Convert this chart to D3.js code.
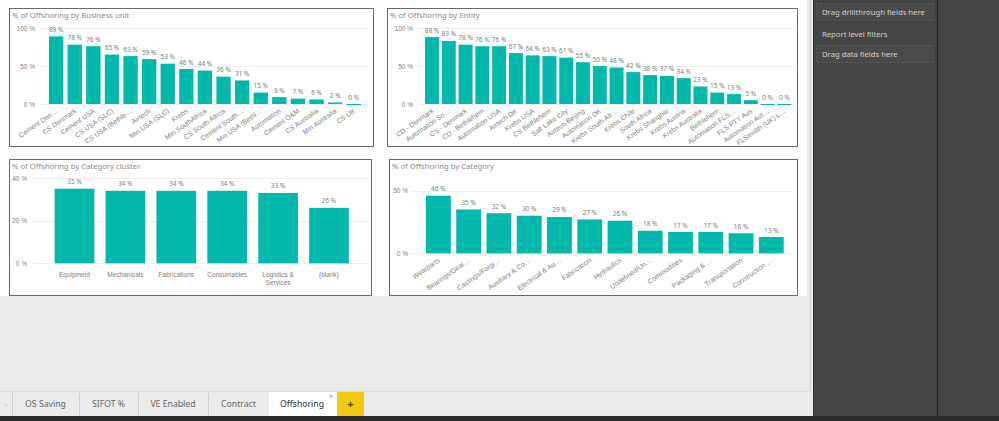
<!DOCTYPE html>
<html>
<head>
<meta charset="utf-8">
<script src="https://cdn.jsdelivr.net/npm/d3@7/dist/d3.min.js"></script>
<style>
  html, body { margin: 0; padding: 0; background: #eaeaea; }
  svg { display: block; font-family: "Segoe UI", "Noto Sans", "Open Sans", sans-serif; }
</style>
</head>
<body>
<svg id="chart" width="999" height="421"></svg>
<script>
// ---------------- DATA ----------------
const buCategories = ["Cement Den…", "CS Denmark", "Cement USA", "CS USA (SLC)", "CS USA (Bethle…", "Airtech", "Min USA (SLC)", "Krebs", "Min SouthAfrica", "CS South Africa", "Cement South…", "Min USA (Bethl…", "Automation", "Cement O&M", "CS Australia", "Min Australia", "CS UK"];
const buValues = [89, 78, 76, 65, 63, 59, 53, 46, 44, 36, 31, 15, 9, 7, 6, 2, 0];
const buTicks = [0, 50, 100];

const entityCategories = ["CD - Denmark", "Automation So…", "CS - Denmark", "CD - Bethlehem", "Automation USA", "Airtech DK", "Krebs USA", "CS Bethlehem", "Salt Lake City", "Airtech Beijing", "Automation DK", "Krebs South Afr…", "Krebs Chile", "South Africa", "Krebs Shanghai", "Krebs Austria", "Krebs Australia", "Bethlehem", "Automation FLS…", "FLS PTY Aus", "Automation Aut…", "FLSmidth (UK) L…"];
const entityValues = [88, 83, 78, 76, 76, 67, 64, 63, 61, 55, 50, 48, 42, 38, 37, 34, 23, 15, 13, 5, 0, 0];
const entityTicks = [0, 50, 100];

const clusterCategories = ["Equipment", "Mechanicals", "Fabrications", "Consumables", "Logistics & Services", "(blank)"];
const clusterValues = [35, 34, 34, 34, 33, 26];
const clusterTicks = [0, 20, 40];

const categoryCategories = ["Wearparts", "Bearings/Gear…", "Castings/Forgi…", "Auxiliary & Co…", "Electrical & Au…", "Fabrication", "Hydraulics", "Undefined/Un…", "Commodities", "Packaging & …", "Transportation", "Construction …"];
const categoryValues = [46, 35, 32, 30, 29, 27, 26, 18, 17, 17, 16, 13];
const categoryTicks = [0, 50];

const tabLabels = ["OS Saving", "SIFOT %", "VE Enabled", "Contract", "Offshoring"];
const activeTab = "Offshoring";
const paneLabels = ["Drag drillthrough fields here", "Report level filters", "Drag data fields here"];

// ---------------- STYLE ----------------
const BAR = "#01B8AA";
const TXT = "#808080";
const svg = d3.select("#chart");

// ---------------- PAGE CHROME ----------------
svg.append("rect").attr("x", 0).attr("y", 0).attr("width", 999).attr("height", 421).attr("fill", "#eaeaea");
svg.append("rect").attr("x", 0).attr("y", 0).attr("width", 807).attr("height", 296).attr("fill", "#ffffff");
svg.append("line").attr("x1", 810.5).attr("x2", 810.5).attr("y1", 0).attr("y2", 392).attr("stroke", "#d4d4d4");

// right panes
svg.append("rect").attr("x", 813).attr("y", 0).attr("width", 186).attr("height", 421).attr("fill", "#454545");
svg.append("line").attr("x1", 813.5).attr("x2", 813.5).attr("y1", 0).attr("y2", 416).attr("stroke", "#333");
svg.append("line").attr("x1", 937.5).attr("x2", 937.5).attr("y1", 0).attr("y2", 416).attr("stroke", "#1f1f1f");

const paneBoxes = [{y: 3, h: 17, box: true}, {y: 25, h: 17, box: false}, {y: 45, h: 17, box: true}];
paneLabels.forEach((t, i) => {
  const b = paneBoxes[i];
  if (b.box) {
    svg.append("rect").attr("x", 816.5).attr("y", b.y + 0.5).attr("width", 117).attr("height", b.h)
      .attr("fill", "#4a4a4a").attr("stroke", "#5e5e5e").attr("stroke-dasharray", "2,2");
  }
  svg.append("text").attr("x", 822).attr("y", b.y + b.h / 2 + 3).attr("fill", "#d0d0d0")
    .attr("font-size", 7.7).text(t);
});

// tab bar
svg.append("rect").attr("x", 0).attr("y", 392).attr("width", 811).attr("height", 24).attr("fill", "#ececec");
svg.append("line").attr("x1", 0).attr("x2", 811).attr("y1", 391.5).attr("y2", 391.5).attr("stroke", "#dadada");
svg.append("text").attr("x", 5).attr("y", 407).attr("fill", "#bbb").attr("font-size", 7).text("›");
const tabEdges = [12, 79, 138, 208, 269, 337];
svg.append("line").attr("x1", 12.5).attr("x2", 12.5).attr("y1", 393).attr("y2", 416).attr("stroke", "#d0d0d0");
tabLabels.forEach((t, i) => {
  const x0 = tabEdges[i], x1 = tabEdges[i + 1];
  const active = t === activeTab;
  if (active) {
    svg.append("rect").attr("x", x0).attr("y", 392).attr("width", x1 - x0).attr("height", 24).attr("fill", "#ffffff");
    svg.append("text").attr("x", x1 - 6).attr("y", 399).attr("fill", "#888").attr("font-size", 7)
      .attr("text-anchor", "middle").text("×");
  } else {
    svg.append("line").attr("x1", x1 + 0.5).attr("x2", x1 + 0.5).attr("y1", 393).attr("y2", 416).attr("stroke", "#d0d0d0");
  }
  svg.append("text").attr("x", (x0 + x1) / 2 + (active ? -1 : 0)).attr("y", 407)
    .attr("fill", active ? "#333" : "#666").attr("font-size", 8.7).attr("text-anchor", "middle").text(t);
});
svg.append("rect").attr("x", 337).attr("y", 392).attr("width", 27).attr("height", 24).attr("fill", "#F2C811");
svg.append("text").attr("x", 350.5).attr("y", 408).attr("fill", "#444").attr("font-size", 11)
  .attr("font-weight", "bold").attr("text-anchor", "middle").text("+");
svg.append("rect").attr("x", 0).attr("y", 416).attr("width", 999).attr("height", 5).attr("fill", "#2b2b2b");

// ---------------- CHARTS ----------------
function drawPanel(cfg) {
  const g = svg.append("g");
  g.append("rect").attr("x", cfg.box[0] + 0.5).attr("y", cfg.box[1] + 0.5)
    .attr("width", cfg.box[2]).attr("height", cfg.box[3])
    .attr("fill", "#fff").attr("stroke", "#6a6a6a");
  g.append("text").attr("x", cfg.box[0] + 3).attr("y", cfg.box[1] + 10)
    .attr("fill", "#8a8a8a").attr("font-size", 7.7).text(cfg.title);

  const y = d3.scaleLinear().domain(cfg.yDomain).range(cfg.yRange);
  const x = d3.scaleBand().domain(cfg.cats).range(cfg.xRange)
    .paddingInner(cfg.padIn).paddingOuter(cfg.padOut);

  // gridlines
  g.append("g").selectAll("line").data(cfg.ticks).join("line")
    .attr("x1", cfg.grid[0]).attr("x2", cfg.grid[1])
    .attr("y1", d => Math.round(y(d)) + 0.5).attr("y2", d => Math.round(y(d)) + 0.5)
    .attr("stroke", "#eeeeee");

  // y axis
  const ya = g.append("g").attr("transform", `translate(${cfg.tickX},0)`)
    .call(d3.axisLeft(y).tickValues(cfg.ticks).tickFormat(d => d + " %").tickSize(0).tickPadding(0));
  ya.select(".domain").remove();
  ya.selectAll("text").attr("fill", TXT).attr("font-size", 6.5).attr("font-family", null);

  // bars
  const data = cfg.cats.map((c, i) => ({c, v: cfg.vals[i]}));
  g.append("g").selectAll("rect").data(data).join("rect")
    .attr("x", d => x(d.c)).attr("width", x.bandwidth())
    .attr("y", d => y(d.v)).attr("height", d => Math.max(1, y(0) - y(d.v)))
    .attr("fill", BAR);
  // data labels
  g.append("g").selectAll("text").data(data).join("text")
    .attr("x", d => x(d.c) + x.bandwidth() / 2).attr("y", d => y(d.v) - 4.5)
    .attr("text-anchor", "middle").attr("fill", TXT).attr("font-size", 6.5)
    .text(d => d.v + " %");

  // x axis
  const xa = g.append("g").attr("transform", `translate(0,${cfg.yRange[0]})`)
    .call(d3.axisBottom(x).tickSize(0).tickPadding(0));
  xa.select(".domain").remove();
  const xt = xa.selectAll("text").attr("fill", TXT).attr("font-size", 6.5).attr("font-family", null);
  if (cfg.rotate) {
    xt.attr("font-size", 6.9).attr("text-anchor", "end").attr("x", 0).attr("y", 0).attr("dy", 0)
      .attr("transform", `translate(2,8) rotate(-35)`);
  } else {
    xt.attr("y", 9).attr("dy", "0.71em");
    xt.each(function(d) {
      const t = d3.select(this);
      const words = d.split(" ");
      if (words.length > 1) {
        t.text(null);
        const lines = [];
        let cur = [];
        words.forEach(w => {
          const test = cur.concat([w]).join(" ");
          if (cur.length && test.length > 11) { lines.push(cur.join(" ")); cur = [w]; }
          else cur.push(w);
        });
        lines.push(cur.join(" "));
        lines.forEach((l, i) => {
          t.append("tspan").attr("x", 0).attr("dy", i === 0 ? "0.71em" : "1.3em").text(l);
        });
        t.attr("dy", null);
      }
    });
  }
}

drawPanel({
  box: [9, 8, 364, 138], title: "% of Offshoring by Business unit",
  cats: buCategories, vals: buValues, ticks: buTicks, yDomain: [0, 100], yRange: [104, 28],
  xRange: [43.4, 366.5], padIn: 0.23, padOut: 0.3, grid: [40, 368], tickX: 35, rotate: true
});
drawPanel({
  box: [387, 8, 410, 138], title: "% of Offshoring by Entity",
  cats: entityCategories, vals: entityValues, ticks: entityTicks, yDomain: [0, 100], yRange: [104, 28],
  xRange: [420, 796.4], padIn: 0.17, padOut: 0.3, grid: [418, 794], tickX: 413, rotate: true
});
drawPanel({
  box: [9, 159, 362, 136], title: "% of Offshoring by Category cluster",
  cats: clusterCategories, vals: clusterValues, ticks: clusterTicks, yDomain: [0, 40], yRange: [263.3, 178],
  xRange: [39.4, 364.1], padIn: 0.22, padOut: 0.3, grid: [33, 368], tickX: 27, rotate: false
});
drawPanel({
  box: [389, 159, 408, 136], title: "% of Offshoring by Category",
  cats: categoryCategories, vals: categoryValues, ticks: categoryTicks, yDomain: [0, 50], yRange: [253.3, 190.7],
  xRange: [416.9, 792.8], padIn: 0.18, padOut: 0.3, grid: [412, 792], tickX: 408, rotate: true
});
</script>
</body>
</html>
